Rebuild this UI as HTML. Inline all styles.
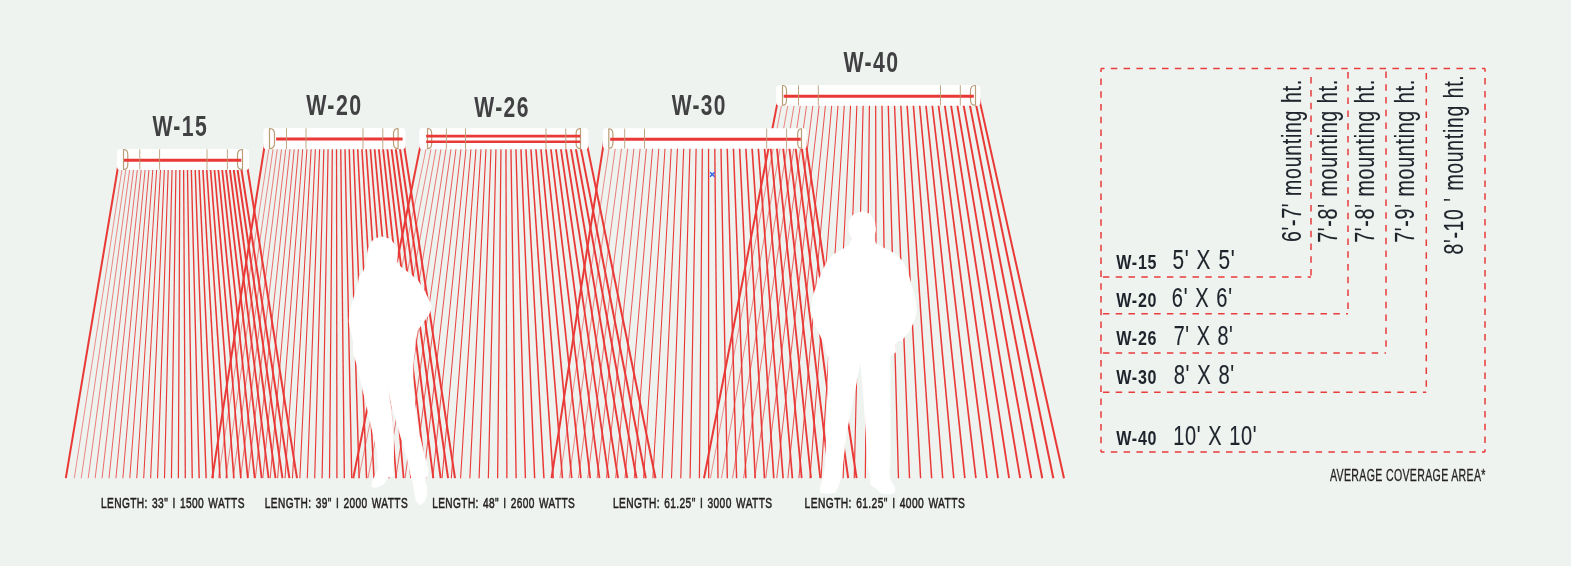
<!DOCTYPE html>
<html lang="en"><head><meta charset="utf-8"><title>Heater coverage</title>
<style>
html,body{margin:0;padding:0;background:#eef3ef}
body{width:1571px;height:566px;overflow:hidden}
svg{display:block;will-change:transform}
text{font-family:"Liberation Sans",sans-serif}
.h{font-size:30.2px;font-weight:700;fill:#414042;letter-spacing:2px}
.c{font-size:15.1px;font-weight:400;fill:#231f20;stroke:#231f20;stroke-width:.55px;letter-spacing:.6px;word-spacing:1.5px}
.rb{font-size:21px;letter-spacing:1px;font-weight:700;fill:#1f242c}
.rs{font-size:28.4px;letter-spacing:1px;word-spacing:1px;stroke:#1f242c;stroke-width:.15px;font-weight:400;fill:#1f242c}
.a{font-size:16.1px;letter-spacing:.5px;stroke:#231f20;stroke-width:.3px;font-weight:400;fill:#231f20}
</style></head><body>
<svg width="1571" height="566" viewBox="0 0 1571 566">
<rect width="1571" height="566" fill="#eef3ef"/>
<g stroke="#e93937" fill="none"><line x1="119.26" y1="159.5" x2="65.8" y2="478.2" stroke-width="2"/><line x1="123.52" y1="159.5" x2="74.3" y2="478.2" stroke-width="0.55"/><line x1="127.27" y1="159.5" x2="81.24" y2="478.2" stroke-width="0.59"/><line x1="131.03" y1="159.5" x2="88.18" y2="478.2" stroke-width="0.64"/><line x1="134.78" y1="159.5" x2="95.12" y2="478.2" stroke-width="0.69"/><line x1="138.53" y1="159.5" x2="102.05" y2="478.2" stroke-width="0.73"/><line x1="142.29" y1="159.5" x2="108.99" y2="478.2" stroke-width="0.78"/><line x1="146.04" y1="159.5" x2="115.93" y2="478.2" stroke-width="0.83"/><line x1="149.79" y1="159.5" x2="122.87" y2="478.2" stroke-width="0.88"/><line x1="153.55" y1="159.5" x2="129.81" y2="478.2" stroke-width="0.92"/><line x1="157.3" y1="159.5" x2="136.75" y2="478.2" stroke-width="0.97"/><line x1="161.05" y1="159.5" x2="143.69" y2="478.2" stroke-width="1.02"/><line x1="164.81" y1="159.5" x2="150.63" y2="478.2" stroke-width="1.06"/><line x1="168.56" y1="159.5" x2="157.56" y2="478.2" stroke-width="1.11"/><line x1="172.31" y1="159.5" x2="164.5" y2="478.2" stroke-width="1.16"/><line x1="176.07" y1="159.5" x2="171.44" y2="478.2" stroke-width="1.2"/><line x1="179.82" y1="159.5" x2="178.38" y2="478.2" stroke-width="1.25"/><line x1="183.57" y1="159.5" x2="185.32" y2="478.2" stroke-width="1.3"/><line x1="187.32" y1="159.5" x2="192.26" y2="478.2" stroke-width="1.35"/><line x1="191.08" y1="159.5" x2="199.2" y2="478.2" stroke-width="1.39"/><line x1="194.83" y1="159.5" x2="206.14" y2="478.2" stroke-width="1.44"/><line x1="198.58" y1="159.5" x2="213.07" y2="478.2" stroke-width="1.49"/><line x1="202.34" y1="159.5" x2="220.01" y2="478.2" stroke-width="1.53"/><line x1="206.09" y1="159.5" x2="226.95" y2="478.2" stroke-width="1.58"/><line x1="209.84" y1="159.5" x2="233.89" y2="478.2" stroke-width="1.63"/><line x1="213.6" y1="159.5" x2="240.83" y2="478.2" stroke-width="1.67"/><line x1="217.35" y1="159.5" x2="247.77" y2="478.2" stroke-width="1.72"/><line x1="221.1" y1="159.5" x2="254.71" y2="478.2" stroke-width="1.77"/><line x1="224.86" y1="159.5" x2="261.65" y2="478.2" stroke-width="1.82"/><line x1="228.61" y1="159.5" x2="268.58" y2="478.2" stroke-width="1.86"/><line x1="232.36" y1="159.5" x2="275.52" y2="478.2" stroke-width="1.91"/><line x1="236.11" y1="159.5" x2="282.46" y2="478.2" stroke-width="1.96"/><line x1="239.87" y1="159.5" x2="289.4" y2="478.2" stroke-width="2"/><line x1="246.12" y1="159.5" x2="297" y2="478.2" stroke-width="2"/></g>
<g stroke="#e93937" fill="none"><line x1="265.73" y1="138.6" x2="212.2" y2="478.2" stroke-width="2"/><line x1="270.44" y1="138.6" x2="218.35" y2="478.2" stroke-width="0.55"/><line x1="274.57" y1="138.6" x2="225.76" y2="478.2" stroke-width="0.59"/><line x1="278.7" y1="138.6" x2="233.17" y2="478.2" stroke-width="0.64"/><line x1="282.83" y1="138.6" x2="240.58" y2="478.2" stroke-width="0.69"/><line x1="286.96" y1="138.6" x2="248" y2="478.2" stroke-width="0.73"/><line x1="291.09" y1="138.6" x2="255.41" y2="478.2" stroke-width="0.78"/><line x1="295.22" y1="138.6" x2="262.82" y2="478.2" stroke-width="0.83"/><line x1="299.35" y1="138.6" x2="270.23" y2="478.2" stroke-width="0.88"/><line x1="303.48" y1="138.6" x2="277.64" y2="478.2" stroke-width="0.92"/><line x1="307.61" y1="138.6" x2="285.05" y2="478.2" stroke-width="0.97"/><line x1="311.75" y1="138.6" x2="292.46" y2="478.2" stroke-width="1.02"/><line x1="315.88" y1="138.6" x2="299.87" y2="478.2" stroke-width="1.06"/><line x1="320.01" y1="138.6" x2="307.29" y2="478.2" stroke-width="1.11"/><line x1="324.14" y1="138.6" x2="314.7" y2="478.2" stroke-width="1.16"/><line x1="328.27" y1="138.6" x2="322.11" y2="478.2" stroke-width="1.2"/><line x1="332.4" y1="138.6" x2="329.52" y2="478.2" stroke-width="1.25"/><line x1="336.53" y1="138.6" x2="336.93" y2="478.2" stroke-width="1.3"/><line x1="340.66" y1="138.6" x2="344.34" y2="478.2" stroke-width="1.35"/><line x1="344.79" y1="138.6" x2="351.75" y2="478.2" stroke-width="1.39"/><line x1="348.92" y1="138.6" x2="359.16" y2="478.2" stroke-width="1.44"/><line x1="353.05" y1="138.6" x2="366.58" y2="478.2" stroke-width="1.49"/><line x1="357.18" y1="138.6" x2="373.99" y2="478.2" stroke-width="1.53"/><line x1="361.32" y1="138.6" x2="381.4" y2="478.2" stroke-width="1.58"/><line x1="365.45" y1="138.6" x2="388.81" y2="478.2" stroke-width="1.63"/><line x1="369.58" y1="138.6" x2="396.22" y2="478.2" stroke-width="1.67"/><line x1="373.71" y1="138.6" x2="403.63" y2="478.2" stroke-width="1.72"/><line x1="377.84" y1="138.6" x2="411.04" y2="478.2" stroke-width="1.77"/><line x1="381.97" y1="138.6" x2="418.45" y2="478.2" stroke-width="1.82"/><line x1="386.1" y1="138.6" x2="425.87" y2="478.2" stroke-width="1.86"/><line x1="390.23" y1="138.6" x2="433.28" y2="478.2" stroke-width="1.91"/><line x1="394.36" y1="138.6" x2="440.69" y2="478.2" stroke-width="1.96"/><line x1="398.49" y1="138.6" x2="448.1" y2="478.2" stroke-width="2"/><line x1="403.02" y1="138.6" x2="455" y2="478.2" stroke-width="2"/></g>
<g stroke="#e93937" fill="none"><line x1="421.85" y1="138.6" x2="353.2" y2="478.2" stroke-width="2"/><line x1="428.13" y1="138.6" x2="358.7" y2="478.2" stroke-width="0.55"/><line x1="432.99" y1="138.6" x2="367.96" y2="478.2" stroke-width="0.59"/><line x1="437.85" y1="138.6" x2="377.22" y2="478.2" stroke-width="0.64"/><line x1="442.71" y1="138.6" x2="386.48" y2="478.2" stroke-width="0.69"/><line x1="447.58" y1="138.6" x2="395.75" y2="478.2" stroke-width="0.73"/><line x1="452.44" y1="138.6" x2="405.01" y2="478.2" stroke-width="0.78"/><line x1="457.3" y1="138.6" x2="414.27" y2="478.2" stroke-width="0.83"/><line x1="462.16" y1="138.6" x2="423.53" y2="478.2" stroke-width="0.88"/><line x1="467.02" y1="138.6" x2="432.79" y2="478.2" stroke-width="0.92"/><line x1="471.89" y1="138.6" x2="442.05" y2="478.2" stroke-width="0.97"/><line x1="476.75" y1="138.6" x2="451.31" y2="478.2" stroke-width="1.02"/><line x1="481.61" y1="138.6" x2="460.57" y2="478.2" stroke-width="1.06"/><line x1="486.47" y1="138.6" x2="469.84" y2="478.2" stroke-width="1.11"/><line x1="491.33" y1="138.6" x2="479.1" y2="478.2" stroke-width="1.16"/><line x1="496.2" y1="138.6" x2="488.36" y2="478.2" stroke-width="1.2"/><line x1="501.06" y1="138.6" x2="497.62" y2="478.2" stroke-width="1.25"/><line x1="505.92" y1="138.6" x2="506.88" y2="478.2" stroke-width="1.3"/><line x1="510.78" y1="138.6" x2="516.14" y2="478.2" stroke-width="1.35"/><line x1="515.64" y1="138.6" x2="525.4" y2="478.2" stroke-width="1.39"/><line x1="520.51" y1="138.6" x2="534.66" y2="478.2" stroke-width="1.44"/><line x1="525.37" y1="138.6" x2="543.93" y2="478.2" stroke-width="1.49"/><line x1="530.23" y1="138.6" x2="553.19" y2="478.2" stroke-width="1.53"/><line x1="535.09" y1="138.6" x2="562.45" y2="478.2" stroke-width="1.58"/><line x1="539.95" y1="138.6" x2="571.71" y2="478.2" stroke-width="1.63"/><line x1="544.82" y1="138.6" x2="580.97" y2="478.2" stroke-width="1.67"/><line x1="549.68" y1="138.6" x2="590.23" y2="478.2" stroke-width="1.72"/><line x1="554.54" y1="138.6" x2="599.49" y2="478.2" stroke-width="1.77"/><line x1="559.4" y1="138.6" x2="608.75" y2="478.2" stroke-width="1.82"/><line x1="564.27" y1="138.6" x2="618.02" y2="478.2" stroke-width="1.86"/><line x1="569.13" y1="138.6" x2="627.28" y2="478.2" stroke-width="1.91"/><line x1="573.99" y1="138.6" x2="636.54" y2="478.2" stroke-width="1.96"/><line x1="578.85" y1="138.6" x2="645.8" y2="478.2" stroke-width="2"/><line x1="585.76" y1="138.6" x2="655.5" y2="478.2" stroke-width="2"/></g>
<g stroke="#e93937" fill="none"><line x1="778.89" y1="95.35" x2="704" y2="478.2" stroke-width="2"/><line x1="783.38" y1="95.35" x2="710.4" y2="478.2" stroke-width="0.55"/><line x1="789.54" y1="95.35" x2="721.46" y2="478.2" stroke-width="0.59"/><line x1="795.69" y1="95.35" x2="732.53" y2="478.2" stroke-width="0.64"/><line x1="801.84" y1="95.35" x2="743.59" y2="478.2" stroke-width="0.69"/><line x1="808" y1="95.35" x2="754.65" y2="478.2" stroke-width="0.73"/><line x1="814.15" y1="95.35" x2="765.71" y2="478.2" stroke-width="0.78"/><line x1="820.3" y1="95.35" x2="776.78" y2="478.2" stroke-width="0.83"/><line x1="826.45" y1="95.35" x2="787.84" y2="478.2" stroke-width="0.88"/><line x1="832.61" y1="95.35" x2="798.9" y2="478.2" stroke-width="0.92"/><line x1="838.76" y1="95.35" x2="809.97" y2="478.2" stroke-width="0.97"/><line x1="844.91" y1="95.35" x2="821.03" y2="478.2" stroke-width="1.02"/><line x1="851.07" y1="95.35" x2="832.09" y2="478.2" stroke-width="1.06"/><line x1="857.22" y1="95.35" x2="843.15" y2="478.2" stroke-width="1.11"/><line x1="863.37" y1="95.35" x2="854.22" y2="478.2" stroke-width="1.16"/><line x1="869.53" y1="95.35" x2="865.28" y2="478.2" stroke-width="1.2"/><line x1="875.68" y1="95.35" x2="876.34" y2="478.2" stroke-width="1.25"/><line x1="881.83" y1="95.35" x2="887.41" y2="478.2" stroke-width="1.3"/><line x1="887.99" y1="95.35" x2="898.47" y2="478.2" stroke-width="1.35"/><line x1="894.14" y1="95.35" x2="909.53" y2="478.2" stroke-width="1.39"/><line x1="900.29" y1="95.35" x2="920.6" y2="478.2" stroke-width="1.44"/><line x1="906.45" y1="95.35" x2="931.66" y2="478.2" stroke-width="1.49"/><line x1="912.6" y1="95.35" x2="942.72" y2="478.2" stroke-width="1.53"/><line x1="918.75" y1="95.35" x2="953.78" y2="478.2" stroke-width="1.58"/><line x1="924.91" y1="95.35" x2="964.85" y2="478.2" stroke-width="1.63"/><line x1="931.06" y1="95.35" x2="975.91" y2="478.2" stroke-width="1.67"/><line x1="937.21" y1="95.35" x2="986.97" y2="478.2" stroke-width="1.72"/><line x1="943.36" y1="95.35" x2="998.04" y2="478.2" stroke-width="1.77"/><line x1="949.52" y1="95.35" x2="1009.1" y2="478.2" stroke-width="1.82"/><line x1="955.67" y1="95.35" x2="1020.16" y2="478.2" stroke-width="1.86"/><line x1="961.82" y1="95.35" x2="1031.22" y2="478.2" stroke-width="1.91"/><line x1="967.98" y1="95.35" x2="1042.29" y2="478.2" stroke-width="1.96"/><line x1="974.13" y1="95.35" x2="1053.35" y2="478.2" stroke-width="2"/><line x1="978.44" y1="95.35" x2="1064" y2="478.2" stroke-width="2"/></g>
<g stroke="#e93937" fill="none"><line x1="604.41" y1="138.55" x2="551.5" y2="478.2" stroke-width="2"/><line x1="610.53" y1="138.55" x2="559.9" y2="478.2" stroke-width="0.55"/><line x1="616.66" y1="138.55" x2="569.2" y2="478.2" stroke-width="0.59"/><line x1="622.79" y1="138.55" x2="578.5" y2="478.2" stroke-width="0.64"/><line x1="628.91" y1="138.55" x2="587.8" y2="478.2" stroke-width="0.69"/><line x1="635.04" y1="138.55" x2="597.1" y2="478.2" stroke-width="0.73"/><line x1="641.17" y1="138.55" x2="606.4" y2="478.2" stroke-width="0.78"/><line x1="647.29" y1="138.55" x2="615.7" y2="478.2" stroke-width="0.83"/><line x1="653.42" y1="138.55" x2="625" y2="478.2" stroke-width="0.88"/><line x1="659.55" y1="138.55" x2="634.3" y2="478.2" stroke-width="0.92"/><line x1="665.67" y1="138.55" x2="643.6" y2="478.2" stroke-width="0.97"/><line x1="671.8" y1="138.55" x2="652.9" y2="478.2" stroke-width="1.02"/><line x1="677.93" y1="138.55" x2="662.2" y2="478.2" stroke-width="1.06"/><line x1="684.05" y1="138.55" x2="671.5" y2="478.2" stroke-width="1.11"/><line x1="690.18" y1="138.55" x2="680.8" y2="478.2" stroke-width="1.16"/><line x1="696.31" y1="138.55" x2="690.1" y2="478.2" stroke-width="1.2"/><line x1="702.43" y1="138.55" x2="699.4" y2="478.2" stroke-width="1.25"/><line x1="708.56" y1="138.55" x2="708.7" y2="478.2" stroke-width="1.3"/><line x1="714.69" y1="138.55" x2="718" y2="478.2" stroke-width="1.35"/><line x1="720.81" y1="138.55" x2="727.3" y2="478.2" stroke-width="1.39"/><line x1="726.94" y1="138.55" x2="736.6" y2="478.2" stroke-width="1.44"/><line x1="733.07" y1="138.55" x2="745.9" y2="478.2" stroke-width="1.49"/><line x1="739.19" y1="138.55" x2="755.2" y2="478.2" stroke-width="1.53"/><line x1="745.32" y1="138.55" x2="764.5" y2="478.2" stroke-width="1.58"/><line x1="751.45" y1="138.55" x2="773.8" y2="478.2" stroke-width="1.63"/><line x1="757.57" y1="138.55" x2="783.1" y2="478.2" stroke-width="1.67"/><line x1="763.7" y1="138.55" x2="792.4" y2="478.2" stroke-width="1.72"/><line x1="769.83" y1="138.55" x2="801.7" y2="478.2" stroke-width="1.77"/><line x1="775.95" y1="138.55" x2="811" y2="478.2" stroke-width="1.82"/><line x1="782.08" y1="138.55" x2="820.3" y2="478.2" stroke-width="1.86"/><line x1="788.21" y1="138.55" x2="829.6" y2="478.2" stroke-width="1.91"/><line x1="794.33" y1="138.55" x2="838.9" y2="478.2" stroke-width="1.96"/><line x1="800.46" y1="138.55" x2="848.2" y2="478.2" stroke-width="2"/><line x1="805.14" y1="138.55" x2="856.6" y2="478.2" stroke-width="2"/></g>
<rect x="117" y="149" width="132" height="21" rx="3.5" fill="#fff"/><path d="M123.5 149.6 V169.4 H124.2 Q127.8 169.4 127.8 163.9 V155.1 Q127.8 149.6 124.2 149.6 Z" fill="none" stroke="#b99d76" stroke-width="1.2" stroke-linejoin="round"/><path d="M242.5 149.6 V169.4 H241.8 Q237.5 169.4 237.5 163.9 V155.1 Q237.5 149.6 241.8 149.6 Z" fill="none" stroke="#b99d76" stroke-width="1.2" stroke-linejoin="round"/><line x1="124" y1="160.3" x2="241.3" y2="160.3" stroke="#e93937" stroke-width="3"/><line x1="139.8" y1="149.3" x2="139.8" y2="169.7" stroke="#b99d76" stroke-width="0.9"/><line x1="159.6" y1="149.3" x2="159.6" y2="169.7" stroke="#b99d76" stroke-width="0.9"/><line x1="207" y1="149.3" x2="207" y2="169.7" stroke="#b99d76" stroke-width="0.9"/><line x1="227.4" y1="149.3" x2="227.4" y2="169.7" stroke="#b99d76" stroke-width="0.9"/>
<rect x="263.4" y="128" width="142" height="21.2" rx="3.5" fill="#fff"/><path d="M269.5 128.6 V148.6 H270.2 Q274.5 148.6 274.5 143.1 V134.1 Q274.5 128.6 270.2 128.6 Z" fill="none" stroke="#b99d76" stroke-width="1.2" stroke-linejoin="round"/><path d="M398.1 128.6 V148.6 H397.4 Q393.5 148.6 393.5 143.1 V134.1 Q393.5 128.6 397.4 128.6 Z" fill="none" stroke="#b99d76" stroke-width="1.2" stroke-linejoin="round"/><line x1="276.1" y1="139" x2="402.6" y2="139" stroke="#e93937" stroke-width="3"/><line x1="286.5" y1="128.3" x2="286.5" y2="148.9" stroke="#b99d76" stroke-width="0.9"/><line x1="306" y1="128.3" x2="306" y2="148.9" stroke="#b99d76" stroke-width="0.9"/><line x1="363" y1="128.3" x2="363" y2="148.9" stroke="#b99d76" stroke-width="0.9"/><line x1="382.8" y1="128.3" x2="382.8" y2="148.9" stroke="#b99d76" stroke-width="0.9"/>
<rect x="419.2" y="128" width="169.1" height="21.2" rx="3.5" fill="#fff"/><path d="M427.5 128.6 V148.6 H428.2 Q431.7 148.6 431.7 143.1 V134.1 Q431.7 128.6 428.2 128.6 Z" fill="none" stroke="#b99d76" stroke-width="1.2" stroke-linejoin="round"/><path d="M580.5 128.6 V148.6 H579.8 Q576.1 148.6 576.1 143.1 V134.1 Q576.1 128.6 579.8 128.6 Z" fill="none" stroke="#b99d76" stroke-width="1.2" stroke-linejoin="round"/><line x1="426.2" y1="136.1" x2="580.2" y2="136.1" stroke="#e93937" stroke-width="2.6"/><line x1="426.2" y1="141.7" x2="580.2" y2="141.7" stroke="#e93937" stroke-width="2.6"/><line x1="446.4" y1="128.3" x2="446.4" y2="148.9" stroke="#b99d76" stroke-width="0.9"/><line x1="465.5" y1="128.3" x2="465.5" y2="148.9" stroke="#b99d76" stroke-width="0.9"/><line x1="546" y1="128.3" x2="546" y2="148.9" stroke="#b99d76" stroke-width="0.9"/><line x1="565.8" y1="128.3" x2="565.8" y2="148.9" stroke="#b99d76" stroke-width="0.9"/>
<rect x="776.1" y="84.9" width="204.3" height="20.9" rx="3.5" fill="#fff"/><path d="M782.5 85.5 V105.2 H783.2 Q786.5 105.2 786.5 99.7 V91 Q786.5 85.5 783.2 85.5 Z" fill="none" stroke="#b99d76" stroke-width="1.2" stroke-linejoin="round"/><path d="M975.5 85.5 V105.2 H974.8 Q970.5 105.2 970.5 99.7 V91 Q970.5 85.5 974.8 85.5 Z" fill="none" stroke="#b99d76" stroke-width="1.2" stroke-linejoin="round"/><line x1="783.7" y1="96.2" x2="973.8" y2="96.2" stroke="#e93937" stroke-width="3"/><line x1="798.5" y1="85.2" x2="798.5" y2="105.5" stroke="#b99d76" stroke-width="0.9"/><line x1="818.3" y1="85.2" x2="818.3" y2="105.5" stroke="#b99d76" stroke-width="0.9"/><line x1="940.5" y1="85.2" x2="940.5" y2="105.5" stroke="#b99d76" stroke-width="0.9"/><line x1="960.3" y1="85.2" x2="960.3" y2="105.5" stroke="#b99d76" stroke-width="0.9"/>
<rect x="602.9" y="128.3" width="203.8" height="20.5" rx="3.5" fill="#fff"/><path d="M608.8 128.9 V148.2 H609.5 Q612.9 148.2 612.9 142.7 V134.4 Q612.9 128.9 609.5 128.9 Z" fill="none" stroke="#b99d76" stroke-width="1.2" stroke-linejoin="round"/><path d="M801.5 128.9 V148.2 H800.8 Q797.7 148.2 797.7 142.7 V134.4 Q797.7 128.9 800.8 128.9 Z" fill="none" stroke="#b99d76" stroke-width="1.2" stroke-linejoin="round"/><line x1="610.2" y1="139.3" x2="800.8" y2="139.3" stroke="#e93937" stroke-width="3"/><line x1="624.7" y1="128.6" x2="624.7" y2="148.5" stroke="#b99d76" stroke-width="0.9"/><line x1="644.5" y1="128.6" x2="644.5" y2="148.5" stroke="#b99d76" stroke-width="0.9"/><line x1="766.7" y1="128.6" x2="766.7" y2="148.5" stroke="#b99d76" stroke-width="0.9"/><line x1="786.6" y1="128.6" x2="786.6" y2="148.5" stroke="#b99d76" stroke-width="0.9"/>
<path d="M710 172.2 l4.6 4.6 M714.6 172.2 l-4.6 4.6" stroke="#2f62ee" stroke-width="1.4" fill="none"/>
<path d="M382 236.9 L390.6 239.4 L395.6 246 L397.3 254.7 L396.8 262 L400.5 267 L409.2 273.3 L417.9 280.7 L424 290.6 L429 300.5 L431.5 306.7 L429 314 L422.8 322.8 L416.6 331.4 L415.4 341.3 L414.2 353.7 L412.9 365 L412.9 387 L415.4 411.9 L419.1 434.2 L424 454 L428 469.7 L427.4 475.9 L424.3 479.6 L426.8 487 L426.8 494.4 L424.3 501.8 L419.4 504.9 L416.3 500.6 L414.4 491.9 L413.2 482 L411 475.9 L407.5 458.9 L399.5 432 L391.5 404 L387.2 385 L385.7 373.5 L388 390 L391.3 410 L393.5 434.9 L393.5 455 L392.9 468.9 L393.4 475.9 L388.4 477 L383.5 483.9 L376 487.6 L371.7 486.4 L372.4 482 L378.5 468.4 L377 449 L372.1 429.2 L367.1 406.9 L362.2 387.1 L357.2 364.9 L353.5 353.7 L353.5 341.3 L350.8 330 L349.2 321.9 L349.7 313 L352.4 302.4 L355.9 291.8 L358.6 282.1 L359.4 276.3 L363.9 270.6 L366.3 265.3 L366.9 258.3 L368.3 249.4 L370.9 242.4 L375.5 238.6 Z" fill="#fff" stroke="#fff" stroke-width="0.8" stroke-linejoin="round"/>
<path d="M862.2 211.6 L870.2 214.3 L874.7 222.2 L875.5 230.2 L873.6 238.1 L875.5 243.4 L884.7 248.7 L895.3 254 L901.9 260.6 L907.2 271.2 L911.2 284.4 L915.2 300.3 L916.5 310.9 L913.8 321.5 L908.6 332.1 L901.9 340 L896.6 341.4 L895.3 345.3 L895.8 352 L890 355.9 L890 393 L890 432.7 L890 460.6 L889 471.2 L890.1 479.7 L894.3 487.1 L894.9 491.9 L890.1 494 L881.6 493.5 L877.4 489.2 L871 485 L870 477.6 L867.8 465.9 L866.2 432.7 L863.5 393 L860.4 359.9 L856.9 379.7 L851.6 406.2 L846.3 432.7 L842.4 465.9 L840.8 478.6 L838.2 486 L835 492.4 L827.6 493.5 L820.7 492.4 L820.1 488.2 L822.3 481.8 L824.9 471.2 L825.9 459.1 L826.5 432.7 L827.8 393 L828.6 357.2 L826.5 353.2 L824.4 342.7 L819.9 334.7 L814.6 324.1 L811.1 310.9 L812.7 297.7 L817.2 284.4 L822.5 271.2 L827.8 260.6 L834.4 254 L843.7 248.7 L850.3 244.7 L851.6 238.1 L849 231.5 L849 222.2 L853 215.1 Z" fill="#fff" stroke="#fff" stroke-width="0.8" stroke-linejoin="round"/>
<text x="152.4" y="135.6" textLength="55.8" lengthAdjust="spacingAndGlyphs" class="h">W-15</text>
<text x="306.2" y="114.6" textLength="56.3" lengthAdjust="spacingAndGlyphs" class="h">W-20</text>
<text x="474.3" y="116.7" textLength="55.5" lengthAdjust="spacingAndGlyphs" class="h">W-26</text>
<text x="671.7" y="114.7" textLength="55.2" lengthAdjust="spacingAndGlyphs" class="h">W-30</text>
<text x="843.5" y="71.7" textLength="55.9" lengthAdjust="spacingAndGlyphs" class="h">W-40</text>
<text x="100.9" y="507.7" textLength="143.95" lengthAdjust="spacingAndGlyphs" class="c">LENGTH: 33&quot; I 1500 WATTS</text>
<text x="264.8" y="507.7" textLength="143.25" lengthAdjust="spacingAndGlyphs" class="c">LENGTH: 39&quot; I 2000 WATTS</text>
<text x="432.2" y="507.7" textLength="143.05" lengthAdjust="spacingAndGlyphs" class="c">LENGTH: 48&quot; I 2600 WATTS</text>
<text x="612.9" y="507.7" textLength="159.65" lengthAdjust="spacingAndGlyphs" class="c">LENGTH: 61.25&quot; I 3000 WATTS</text>
<text x="804.6" y="507.7" textLength="160.55" lengthAdjust="spacingAndGlyphs" class="c">LENGTH: 61.25&quot; I 4000 WATTS</text>
<g fill="none" stroke="#e93d3c" stroke-width="1.5" stroke-dasharray="6.5 6.3"><path d="M1101 68.6 H1485" stroke-dashoffset="3"/><path d="M1101 68.6 V452" stroke-dashoffset="3"/><path d="M1485 68.6 V452" stroke-dashoffset="3.3"/><path d="M1101 452 H1485" stroke-dashoffset="3"/><path d="M1311 77.1 V277" stroke-dashoffset="0"/><path d="M1102.9 277 H1311" stroke-dashoffset="0"/><path d="M1348 72 V313.8" stroke-dashoffset="0"/><path d="M1102.9 313.8 H1348" stroke-dashoffset="0"/><path d="M1386 71.4 V353" stroke-dashoffset="0"/><path d="M1102.9 353 H1386" stroke-dashoffset="0"/><path d="M1426.3 73.1 V392.2" stroke-dashoffset="0"/><path d="M1102.9 392.2 H1426.3" stroke-dashoffset="0"/></g>
<text x="1116.2" y="269.4" textLength="41.1" lengthAdjust="spacingAndGlyphs" class="rb">W-15</text>
<text x="1172.4" y="269.4" textLength="63" lengthAdjust="spacingAndGlyphs" class="rs">5&#39; X 5&#39;</text>
<text x="1116.2" y="306.5" textLength="41.1" lengthAdjust="spacingAndGlyphs" class="rb">W-20</text>
<text x="1171.8" y="306.5" textLength="61" lengthAdjust="spacingAndGlyphs" class="rs">6&#39; X 6&#39;</text>
<text x="1116.2" y="345" textLength="41.1" lengthAdjust="spacingAndGlyphs" class="rb">W-26</text>
<text x="1173.7" y="345" textLength="59.9" lengthAdjust="spacingAndGlyphs" class="rs">7&#39; X 8&#39;</text>
<text x="1116.2" y="384" textLength="41.1" lengthAdjust="spacingAndGlyphs" class="rb">W-30</text>
<text x="1173.7" y="384" textLength="61.2" lengthAdjust="spacingAndGlyphs" class="rs">8&#39; X 8&#39;</text>
<text x="1116.2" y="445.2" textLength="41.1" lengthAdjust="spacingAndGlyphs" class="rb">W-40</text>
<text x="1173.2" y="445.2" textLength="84.2" lengthAdjust="spacingAndGlyphs" class="rs">10&#39; X 10&#39;</text>
<text transform="translate(1301.2 242) rotate(-90)" x="0" y="0" textLength="162.8" lengthAdjust="spacingAndGlyphs" class="rs">6&#39;-7&#39; mounting ht.</text>
<text transform="translate(1337.4 242.8) rotate(-90)" x="0" y="0" textLength="163.6" lengthAdjust="spacingAndGlyphs" class="rs">7&#39;-8&#39; mounting ht.</text>
<text transform="translate(1373.7 242.8) rotate(-90)" x="0" y="0" textLength="163.6" lengthAdjust="spacingAndGlyphs" class="rs">7&#39;-8&#39; mounting ht.</text>
<text transform="translate(1413.8 242.8) rotate(-90)" x="0" y="0" textLength="163.6" lengthAdjust="spacingAndGlyphs" class="rs">7&#39;-9&#39; mounting ht.</text>
<text transform="translate(1462.9 254.5) rotate(-90)" x="0" y="0" textLength="179.8" lengthAdjust="spacingAndGlyphs" class="rs">8&#39;-10 &#39; mounting ht.</text>
<text x="1330" y="480.9" textLength="155.8" lengthAdjust="spacingAndGlyphs" class="a">AVERAGE COVERAGE AREA*</text>
</svg>
</body></html>
